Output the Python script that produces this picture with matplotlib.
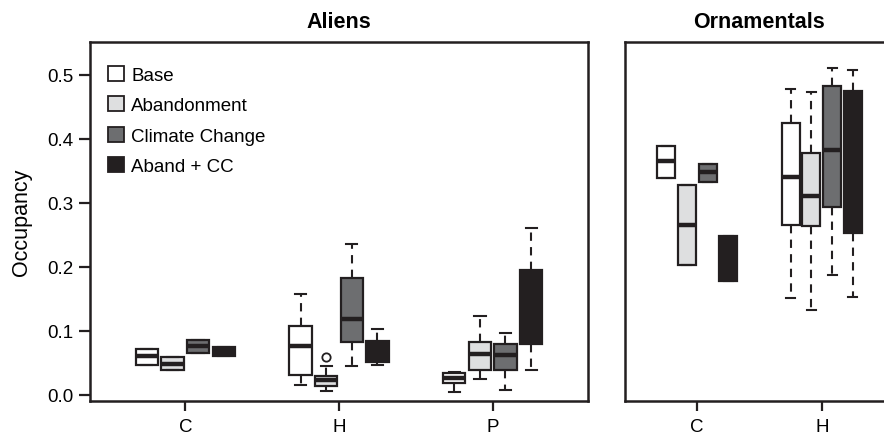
import matplotlib
matplotlib.use("Agg")
import matplotlib.pyplot as plt
from matplotlib.patches import Patch

plt.rcParams['font.family'] = ['Liberation Sans', 'DejaVu Sans']

scenarios = ["Base", "Abandonment", "Climate Change", "Aband + CC"]
colors = ["#FFFFFF", "#DEDFE0", "#6D6E70", "#231F20"]
ink = "#231F20"

# Aliens panel, groups C, H, P; each list has one value per scenario
aliens_groups = ["C", "H", "P"]
aliens_med = [[0.061, 0.049, 0.077, 0.068],
              [0.076, 0.023, 0.118, 0.062],
              [0.026, 0.064, 0.063, 0.125]]
aliens_q1 = [[0.047, 0.039, 0.066, 0.061],
             [0.031, 0.014, 0.082, 0.051],
             [0.018, 0.039, 0.039, 0.079]]
aliens_q3 = [[0.071, 0.059, 0.086, 0.075],
             [0.108, 0.030, 0.182, 0.084],
             [0.035, 0.083, 0.079, 0.195]]
aliens_lo = [[0.047, 0.039, 0.066, 0.061],
             [0.015, 0.006, 0.045, 0.047],
             [0.005, 0.025, 0.007, 0.039]]
aliens_hi = [[0.071, 0.059, 0.086, 0.075],
             [0.157, 0.045, 0.235, 0.103],
             [0.036, 0.124, 0.096, 0.261]]
aliens_out = [[[], [], [], []],
              [[], [0.060], [], []],
              [[], [], [], []]]

# Ornamentals panel, groups C, H
orn_groups = ["C", "H"]
orn_med = [[0.365, 0.266, 0.348, 0.212],
           [0.340, 0.311, 0.383, 0.422]]
orn_q1 = [[0.338, 0.203, 0.333, 0.178],
          [0.266, 0.263, 0.294, 0.253]]
orn_q3 = [[0.389, 0.327, 0.361, 0.248],
          [0.425, 0.378, 0.482, 0.475]]
orn_lo = [[0.338, 0.203, 0.333, 0.178],
          [0.152, 0.132, 0.188, 0.153]]
orn_hi = [[0.389, 0.327, 0.361, 0.248],
          [0.477, 0.473, 0.511, 0.508]]
orn_out = [[[], [], [], []],
           [[], [], [], []]]

offsets = [-0.25, -0.083, 0.083, 0.25]
box_w = 0.145


def draw_panel(ax, groups, med, q1, q3, lo, hi, out):
    for g in range(len(groups)):
        for s in range(4):
            st = dict(med=med[g][s], q1=q1[g][s], q3=q3[g][s],
                      whislo=lo[g][s], whishi=hi[g][s], fliers=out[g][s])
            bp = ax.bxp([st], positions=[g + 1 + offsets[s]], widths=box_w,
                        capwidths=box_w * 0.5, patch_artist=True,
                        boxprops=dict(facecolor=colors[s], edgecolor=ink, linewidth=1.6),
                        medianprops=dict(color=ink, linewidth=3.2, solid_capstyle='butt'),
                        whiskerprops=dict(color=ink, linewidth=1.5, linestyle=(0, (4, 3))),
                        capprops=dict(color=ink, linewidth=1.5),
                        flierprops=dict(marker='o', markerfacecolor='none',
                                        markeredgecolor=ink, markersize=6, markeredgewidth=1.3),
                        manage_ticks=False)
            for w in bp['whiskers']:
                w.set_zorder(1)
    ax.set_xlim(0.5 - 0.04 * len(groups), len(groups) + 0.5 + 0.04 * len(groups))
    ax.set_ylim(-0.0094, 0.551)
    ax.set_xticks(range(1, len(groups) + 1))
    ax.set_xticklabels(groups)
    for sp in ax.spines.values():
        sp.set_linewidth(1.8)
        sp.set_color(ink)
    ax.tick_params(axis='x', length=7.5, width=1.6, color=ink, labelsize=13.5, pad=5)


fig = plt.figure(figsize=(8.84, 4.39), dpi=100)
ax1 = fig.add_axes([90 / 884, 1 - 402 / 439, 498 / 884, 359 / 439])
ax2 = fig.add_axes([625 / 884, 1 - 402 / 439, 269 / 884, 359 / 439])

draw_panel(ax1, aliens_groups, aliens_med, aliens_q1, aliens_q3, aliens_lo, aliens_hi, aliens_out)
draw_panel(ax2, orn_groups, orn_med, orn_q1, orn_q3, orn_lo, orn_hi, orn_out)

ax1.set_yticks([0.0, 0.1, 0.2, 0.3, 0.4, 0.5])
ax1.set_yticklabels(["0.0", "0.1", "0.2", "0.3", "0.4", "0.5"])
ax1.tick_params(axis='y', length=8, width=1.6, color=ink, labelsize=13.5, pad=4)
ax1.set_ylabel("Occupancy", fontsize=15.5, labelpad=11)
ax2.set_yticks([])

ax1.set_title("Aliens", fontsize=15.5, fontweight='bold', pad=11)
ax2.set_title("Ornamentals", fontsize=15.5, fontweight='bold', pad=11)

handles = [Patch(facecolor=c, edgecolor=ink, linewidth=1.3) for c in colors]
ax1.legend(handles, scenarios, loc='upper left',
           bbox_to_anchor=(18 / 498, (402 - 67) / 359),
           frameon=False, fontsize=13.5, handlelength=0.85, handleheight=0.85,
           handletextpad=0.4, labelspacing=0.66, borderaxespad=0, borderpad=0)

fig.savefig("out.png", dpi=100)
